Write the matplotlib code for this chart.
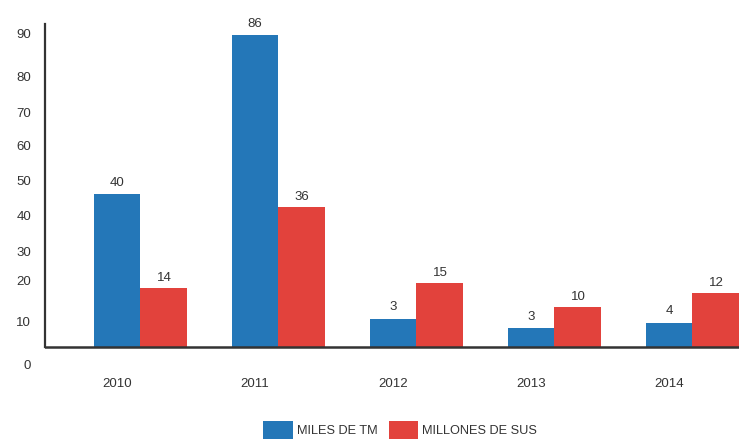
import matplotlib
matplotlib.use("Agg")
import matplotlib.pyplot as plt
import numpy as np
from matplotlib.patches import Patch

plt.rcParams['font.family'] = ['Liberation Sans', 'DejaVu Sans']

years = ["2010", "2011", "2012", "2013", "2014"]
# bar heights as drawn in the picture (axis units)
miles_tm_heights = [43.7, 89.1, 8.0, 5.4, 6.9]
millones_sus_heights = [16.9, 40.0, 18.3, 11.4, 15.4]
# value labels as printed in the picture
miles_tm_labels = ["40", "86", "3", "3", "4"]
millones_sus_labels = ["14", "36", "15", "10", "12"]
# y tick labels as printed, at the (uneven) positions seen in the picture
ytick_pos = [-4.9, 7.4, 19.0, 27.2, 37.7, 47.7, 57.6, 67.0, 77.2, 89.7]
ytick_labels = ["0", "10", "20", "30", "40", "50", "60", "70", "80", "90"]

blue = "#2477b8"
red = "#e2423c"
txt = "#333333"

fig = plt.figure(figsize=(7.39, 4.42), dpi=100)
ax = fig.add_axes([45/739, (442-368)/442, 1-45/739, (368-24)/442])

x = np.arange(len(years))
w = 0.34
b1 = ax.bar(x, miles_tm_heights, width=w, color=blue)
b2 = ax.bar(x + w, millones_sus_heights, width=w, color=red)

for rect, lab in zip(b1, miles_tm_labels):
    ax.annotate(lab, (rect.get_x() + rect.get_width()/2, rect.get_height()),
                xytext=(0, 4), textcoords="offset points", ha="center", va="bottom",
                fontsize=9.5, color=txt)
for rect, lab in zip(b2, millones_sus_labels):
    ax.annotate(lab, (rect.get_x() + rect.get_width()/2, rect.get_height()),
                xytext=(0, 3), textcoords="offset points", ha="center", va="bottom",
                fontsize=9.5, color=txt)

ax.set_xlim(-0.522, 4.507)
ax.set_ylim(-6, 92.3)
ax.set_xticks(x)
ax.set_xticklabels(years)
ax.set_yticks(ytick_pos)
ax.set_yticklabels(ytick_labels)
ax.tick_params(axis="both", length=0, labelsize=9.5, labelcolor=txt)
ax.tick_params(axis="x", pad=7)
ax.tick_params(axis="y", pad=10)

for s in ["top", "right", "bottom"]:
    ax.spines[s].set_visible(False)
ax.spines["left"].set_bounds(0, 92.3)
ax.spines["left"].set_color("#333333")
ax.spines["left"].set_linewidth(1.6)
ax.axhline(0, color="#333333", lw=1.8, zorder=3)

handles = [Patch(facecolor=blue, edgecolor="none"), Patch(facecolor=red, edgecolor="none")]
fig.legend(handles, ["MILES DE TM", "MILLONES DE SUS"], loc="center",
           bbox_to_anchor=(400/739, 12/442), ncol=2, frameon=False,
           fontsize=9.2, labelcolor=txt, handlelength=2.3, handleheight=1.9,
           handletextpad=0.3, columnspacing=0.9, borderaxespad=0, borderpad=0)

fig.savefig("out.png", dpi=100)
